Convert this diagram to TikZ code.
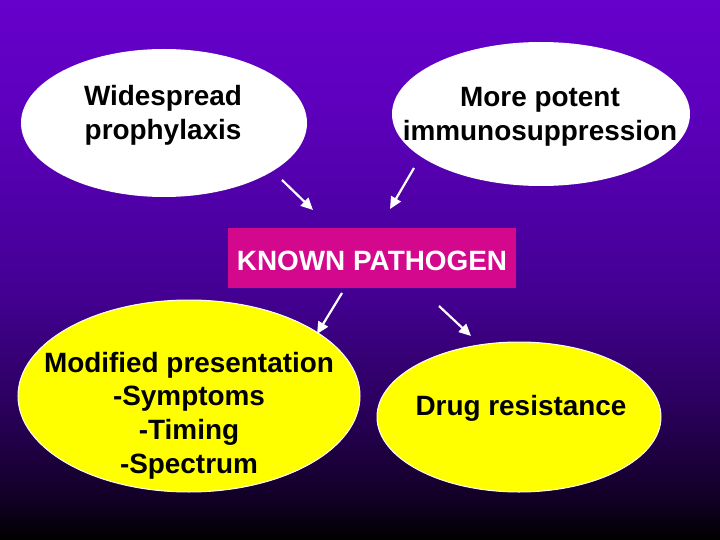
\documentclass[tikz,border=0pt]{standalone}
\usepackage{fontspec}
\setmainfont{Liberation Sans}
\usetikzlibrary{arrows.meta,shapes.geometric}
\definecolor{c0}{HTML}{6600CC}
\definecolor{c100}{HTML}{5E00BE}
\definecolor{c200}{HTML}{5000A8}
\definecolor{c300}{HTML}{420090}
\definecolor{c400}{HTML}{2C0060}
\definecolor{c500}{HTML}{110024}
\definecolor{boxmag}{HTML}{D4088C}
\definecolor{ylw}{HTML}{FFFF00}
\pgfdeclareverticalshading{bgsh}{100bp}{color(0bp)=(black); color(25bp)=(black); color(28.7bp)=(c500); color(37.96bp)=(c400); color(47.22bp)=(c300); color(56.48bp)=(c200); color(65.74bp)=(c100); color(75bp)=(c0); color(100bp)=(c0)}
\tikzset{
  blob/.style={ellipse, inner sep=0pt},
  whiteblob/.style={blob, fill=white},
  yellowblob/.style={blob, fill=ylw, draw=white, line width=1pt},
  lbl/.style={align=center, font=\fontsize{27.9}{33.6}\selectfont\bfseries, inner sep=0pt},
  arr/.style={draw=white, line width=2.2pt, -{Triangle[length=12pt,width=11pt]}},
}
\begin{document}
\begin{tikzpicture}[x=1pt,y=-1pt]
\shade[shading=bgsh] (0,0) rectangle (720,540);
\useasboundingbox (0,0) rectangle (720,540);
% ellipses
\node[whiteblob, minimum width=286pt, minimum height=148pt] (e1) at (164,123) {};
\node[whiteblob, minimum width=298pt, minimum height=144pt] (e2) at (541,114) {};
\node[yellowblob, minimum width=342pt, minimum height=192pt] (e3) at (189,396) {};
\node[yellowblob, minimum width=284pt, minimum height=150pt] (e4) at (519,417) {};
% box
\node[fill=boxmag, minimum width=288pt, minimum height=60pt, inner sep=0pt] (kp) at (372,258) {};
% labels
\node[lbl] (t1) at (163,115.5) {Widespread\\prophylaxis};
\node[lbl] (t2) at (540,116.5) {More potent\\immunosuppression};
\node[lbl, text=white] (t3) at (372,261) {KNOWN PATHOGEN};
\node[lbl] (t4) at (189,415.5) {Modified presentation\\-Symptoms\\-Timing\\-Spectrum};
\node[lbl] (t5) at (521,408.5) {Drug resistance};
% arrows
\coordinate (a1s) at (282,180); \coordinate (a1e) at (313,210);
\coordinate (a2s) at (414,168); \coordinate (a2e) at (390,209);
\coordinate (a3s) at (342,293); \coordinate (a3e) at (317,334);
\coordinate (a4s) at (439,306); \coordinate (a4e) at (471,336);
\draw[arr] (a1s) -- (a1e);
\draw[arr] (a2s) -- (a2e);
\draw[arr] (a3s) -- (a3e);
\draw[arr] (a4s) -- (a4e);
\end{tikzpicture}
\end{document}
